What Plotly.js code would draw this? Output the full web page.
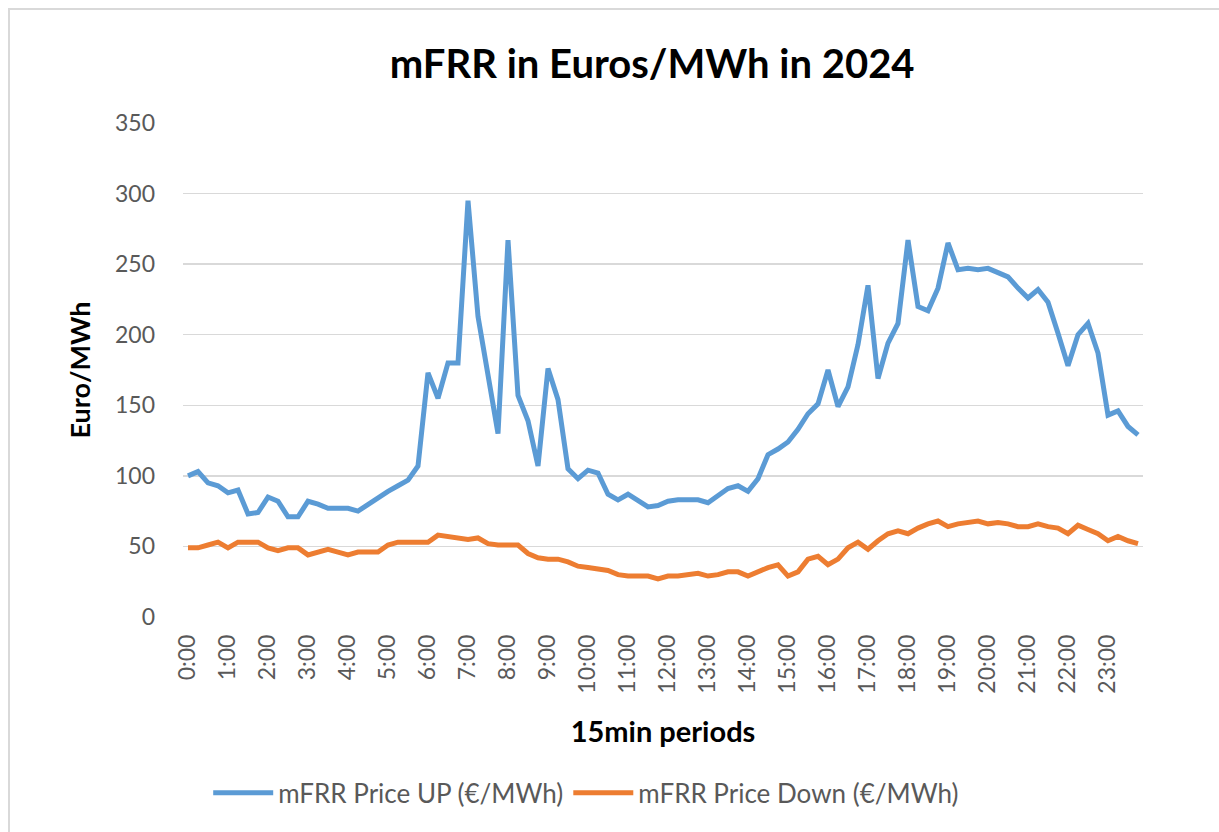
<!DOCTYPE html>
<html>
<head>
<meta charset="utf-8">
<script src="https://cdn.plot.ly/plotly-3.0.1.min.js"></script>
<style>
  html, body { margin: 0; padding: 0; background: #ffffff; overflow: hidden; }
  #chart { position: absolute; left: 0; top: 0; width: 1219px; height: 832px; }
  #frame { position: absolute; left: 8px; top: 8px; width: 1300px; height: 900px;
           border-left: 2px solid #d9d9d9; border-top: 2px solid #d9d9d9; pointer-events: none; }
</style>
</head>
<body>
<div id="chart"></div>
<div id="frame"></div>
<script>
const periods = [
  "0:00","0:15","0:30","0:45","1:00","1:15","1:30","1:45","2:00","2:15","2:30","2:45",
  "3:00","3:15","3:30","3:45","4:00","4:15","4:30","4:45","5:00","5:15","5:30","5:45",
  "6:00","6:15","6:30","6:45","7:00","7:15","7:30","7:45","8:00","8:15","8:30","8:45",
  "9:00","9:15","9:30","9:45","10:00","10:15","10:30","10:45","11:00","11:15","11:30","11:45",
  "12:00","12:15","12:30","12:45","13:00","13:15","13:30","13:45","14:00","14:15","14:30","14:45",
  "15:00","15:15","15:30","15:45","16:00","16:15","16:30","16:45","17:00","17:15","17:30","17:45",
  "18:00","18:15","18:30","18:45","19:00","19:15","19:30","19:45","20:00","20:15","20:30","20:45",
  "21:00","21:15","21:30","21:45","22:00","22:15","22:30","22:45","23:00","23:15","23:30","23:45"
];

const hourTicks = [
  "0:00","1:00","2:00","3:00","4:00","5:00","6:00","7:00","8:00","9:00","10:00","11:00",
  "12:00","13:00","14:00","15:00","16:00","17:00","18:00","19:00","20:00","21:00","22:00","23:00"
];

const priceUp = [
  100,103,95,93,88,90,73,74,85,82,71,71,
  82,80,77,77,77,75,80,84,89,93,97,107,
  173,155,180,180,295,213,170,130,267,157,139,107,
  176,154,105,98,104,102,87,83,87,83,78,79,
  82,83,83,83,81,86,91,93,89,98,115,119,
  124,133,144,151,175,149,163,193,235,169,194,208,
  267,220,217,233,265,246,247,246,247,244,241,233,
  226,232,223,201,178,200,208,187,143,146,135,129
];

const priceDown = [
  49,49,51,53,49,53,53,53,49,47,49,49,
  44,46,48,46,44,46,46,46,51,53,53,53,
  53,58,57,56,55,56,52,51,51,51,45,42,
  41,41,39,36,35,34,33,30,29,29,29,27,
  29,29,30,31,29,30,32,32,29,32,35,37,
  29,32,41,43,37,41,49,53,48,54,59,61,
  59,63,66,68,64,66,67,68,66,67,66,64,
  64,66,64,63,59,65,62,59,54,57,54,52
];

const yTicks = [0, 50, 100, 150, 200, 250, 300, 350];

const FONT = "Lato, 'Open Sans', sans-serif";

const traces = [
  {
    x: periods, y: priceUp, type: "scatter", mode: "lines",
    name: "mFRR Price UP (€/MWh)",
    line: { color: "#5b9bd5", width: 5 }
  },
  {
    x: periods, y: priceDown, type: "scatter", mode: "lines",
    name: "mFRR Price Down (€/MWh)",
    line: { color: "#ed7d31", width: 5 }
  }
];

const layout = {
  width: 1219, height: 832,
  paper_bgcolor: "#ffffff", plot_bgcolor: "#ffffff",
  margin: { l: 183, r: 76, t: 123, b: 215 },
  font: { family: FONT, color: "#595959" },
  title: {
    text: "<b>mFRR in Euros/MWh in 2024</b>",
    font: { family: FONT, size: 40, color: "#000000" },
    xref: "container", x: 0.535, xanchor: "center",
    yref: "container", y: 0.923, yanchor: "middle"
  },
  xaxis: {
    type: "category",
    categoryorder: "array", categoryarray: periods,
    range: [-0.5, periods.length - 0.5],
    tickmode: "array", tickvals: hourTicks, ticktext: hourTicks,
    tickangle: -90,
    tickfont: { family: FONT, size: 23, color: "#595959" },
    ticks: "", showgrid: false, zeroline: false, showline: false,
    ticklabelstandoff: 12,
    title: {
      text: "<b>15min periods</b>",
      font: { family: FONT, size: 29, color: "#000000" },
      standoff: 28
    },
    fixedrange: true
  },
  yaxis: {
    range: [0, 350],
    tickmode: "array", tickvals: yTicks, ticktext: yTicks.map(String),
    tickfont: { family: FONT, size: 23, color: "#595959" },
    ticks: "", showgrid: true, gridcolor: "#d9d9d9", gridwidth: 1.5,
    zeroline: false, showline: false,
    ticklabelstandoff: 27,
    title: {
      text: "<b>Euro/MWh</b>",
      font: { family: FONT, size: 27, color: "#000000" },
      standoff: 16
    },
    fixedrange: true
  },
  showlegend: true,
  legend: {
    orientation: "h",
    x: 0.42, xanchor: "center",
    y: -0.356, yanchor: "middle",
    font: { family: FONT, size: 26, color: "#595959" },
    itemwidth: 60,
    bgcolor: "rgba(0,0,0,0)"
  }
};

Plotly.newPlot("chart", traces, layout, { displayModeBar: false, staticPlot: true });
</script>
</body>
</html>
